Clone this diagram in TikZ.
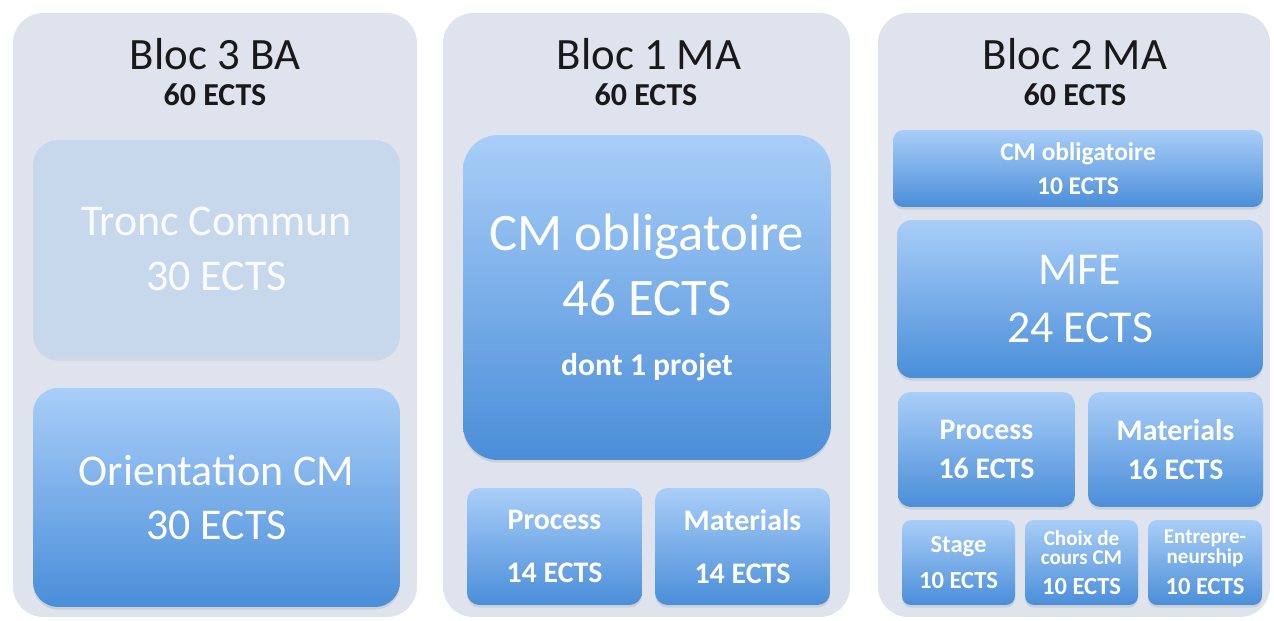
\documentclass[tikz,border=0pt]{standalone}
\usepackage{fontspec}
\setmainfont{Carlito}
\usetikzlibrary{shadows}
\definecolor{panelgray}{HTML}{DEE3EE}
\definecolor{troncgray}{HTML}{C8D8EC}
\definecolor{blocktop}{HTML}{A9CEF8}
\definecolor{blockbot}{HTML}{4A8ED9}
\newcommand{\ftitle}{\fontsize{25.5}{30}\selectfont}
\newcommand{\fects}{\fontsize{18.2}{21}\bfseries\selectfont}
\tikzstyle{panel}=[fill=panelgray,rounded corners=0.6cm,minimum height=12.08cm,inner sep=0pt]
\tikzstyle{title}=[font=\ftitle,text=black!90,inner sep=0pt]
\tikzstyle{credits}=[font=\fects,text=black!90,inner sep=0pt]
\tikzstyle{block}=[top color=blocktop,bottom color=blockbot,text=white,align=center,inner sep=0pt,
  drop shadow={shadow xshift=0pt,shadow yshift=-1.5pt,opacity=.2}]
\tikzstyle{greyblock}=[fill=troncgray,text=white!90!troncgray,align=center,inner sep=0pt,
  drop shadow={shadow xshift=0pt,shadow yshift=-1.5pt,opacity=.12}]
\begin{document}
\begin{tikzpicture}[x=0.02cm,y=-0.02cm]
\useasboundingbox (0,0) rectangle (1274,621);
\node[panel,minimum width=8.08cm] (P1) at (215,315) {};
\node[panel,minimum width=8.14cm] (P2) at (646.5,315) {};
\node[panel,minimum width=7.84cm] (P3) at (1074,315) {};
\node[title] (T1) at (215,54) {Bloc 3 BA};
\node[title] (T2) at (649,54) {Bloc 1 MA};
\node[title] (T3) at (1075,54) {Bloc 2 MA};
\node[credits] (C1) at (215,95) {60 ECTS};
\node[credits] (C2) at (646,95) {60 ECTS};
\node[credits] (C3) at (1075,95) {60 ECTS};
% Bloc 3 BA
\node[greyblock,rounded corners=0.5cm,minimum width=7.34cm,minimum height=4.36cm,
  font=\fontsize{25}{31}\selectfont] (TC) at (216.5,249) {Tronc Commun\\30 ECTS};
\node[block,rounded corners=0.5cm,minimum width=7.34cm,minimum height=4.38cm,
  font=\fontsize{25}{31}\selectfont] (OR) at (216.5,497.5) {Orientation CM\\30 ECTS};
% Bloc 1 MA
\node[block,rounded corners=0.7cm,minimum width=7.36cm,minimum height=6.5cm,
  font=\fontsize{30}{37}\selectfont] (CMa) at (647,297.5)
  {CM obligatoire\\46 ECTS\\[-3pt]{\fontsize{18}{21}\bfseries\selectfont dont 1 projet}};
\node[block,rounded corners=0.25cm,minimum width=3.5cm,minimum height=2.34cm,
  font=\fontsize{17}{30}\bfseries\selectfont] (PRa) at (554.5,546.5) {Process\\14 ECTS};
\node[block,rounded corners=0.25cm,minimum width=3.5cm,minimum height=2.34cm,
  font=\fontsize{17}{30}\bfseries\selectfont] (MAa) at (742.5,546.5) {Materials\\14 ECTS};
% Bloc 2 MA
\node[block,rounded corners=0.2cm,minimum width=7.4cm,minimum height=1.54cm,
  font=\fontsize{14.5}{19}\bfseries\selectfont] (CMb) at (1078,168.5) {CM obligatoire\\10 ECTS};
\node[block,rounded corners=0.3cm,minimum width=7.32cm,minimum height=3.16cm,
  font=\fontsize{26}{33}\selectfont] (MFE) at (1080,299) {MFE\\24 ECTS};
\node[block,rounded corners=0.25cm,minimum width=3.54cm,minimum height=2.3cm,
  font=\fontsize{17}{22}\bfseries\selectfont] (PRb) at (986.5,449.5) {Process\\16 ECTS};
\node[block,rounded corners=0.25cm,minimum width=3.5cm,minimum height=2.3cm,
  font=\fontsize{17}{22}\bfseries\selectfont] (MAb) at (1175.5,449.5) {Materials\\16 ECTS};
\node[block,rounded corners=0.18cm,minimum width=2.26cm,minimum height=1.7cm,
  font=\fontsize{14}{21}\bfseries\selectfont] (ST) at (958.5,562.5) {Stage\\10 ECTS};
\node[block,rounded corners=0.18cm,minimum width=2.26cm,minimum height=1.7cm,
  font=\fontsize{12}{11}\bfseries\selectfont] (CC) at (1081.5,562.5)
  {Choix de\\cours CM\\[6pt]{\fontsize{14}{17}\selectfont 10 ECTS}};
\node[block,rounded corners=0.18cm,minimum width=2.28cm,minimum height=1.7cm,
  font=\fontsize{12}{11}\bfseries\selectfont] (EN) at (1205,562.5)
  {Entrepre-\\neurship\\[6pt]{\fontsize{14}{17}\selectfont 10 ECTS}};
\end{tikzpicture}
\end{document}
